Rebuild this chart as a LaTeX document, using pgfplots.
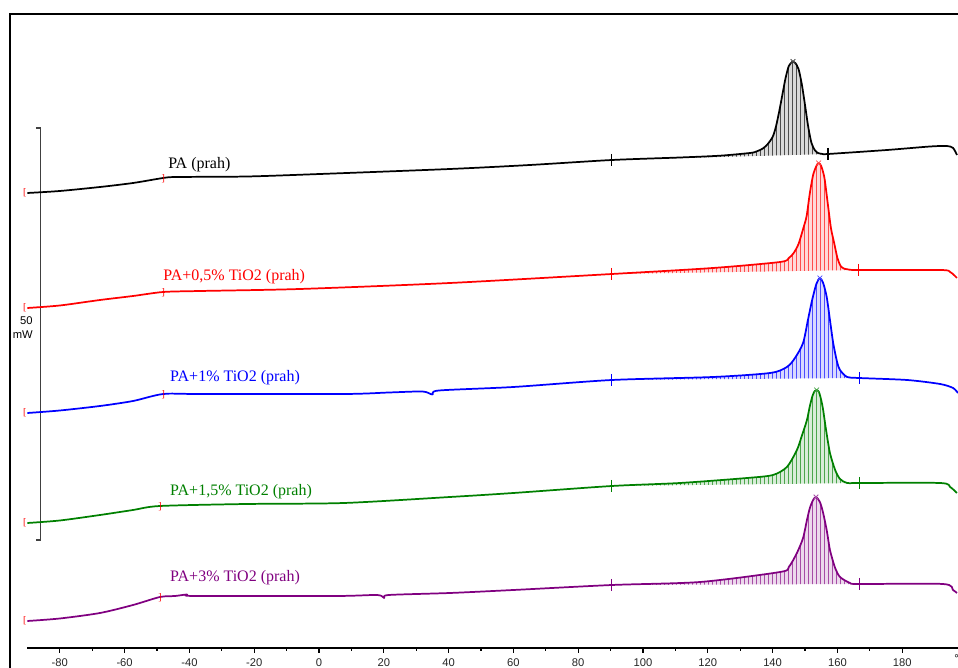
\documentclass[border=0pt]{standalone}
\usepackage{fontspec}
\setmainfont{Liberation Serif}
\setsansfont{Liberation Sans}
\usepackage{pgfplots}
\pgfplotsset{compat=1.18}
\usepgfplotslibrary{fillbetween}
\usetikzlibrary{patterns}
\definecolor{cgreen}{RGB}{0,128,0}
\definecolor{cpurple}{RGB}{128,0,128}
\begin{document}
\begin{tikzpicture}
\begin{axis}[
  x=2.43pt, y=0.75pt,
  xmin=-90, xmax=197.2, ymin=20, ymax=654,
  axis x line*=bottom, axis y line=none,
  xtick={-80,-60,...,180}, minor x tick num=1,
  xtick align=outside,
  major tick length=3.75pt, minor tick length=2.25pt,
  tick style={black, line width=0.8pt},
  x axis line style={line width=0.9pt},
  ticklabel style={font=\sffamily\fontsize{8.4}{9}\selectfont, text=black!85},
  /pgf/number format/assume math mode=true,
  xticklabel style={yshift=-0.5pt},
  clip=false,
  every axis plot/.append style={line width=1.3pt},
  curve/.style={smooth, tension=0.45, line join=round},
  lim/.style={only marks, mark=|, mark size=4.5pt, #1, mark options={line width=0.8pt}},
  pk/.style={only marks, mark=x, mark size=2.5pt, #1, mark options={line width=0.6pt}},
  brk/.style={only marks, mark=text, text mark as node=true, text mark={#1},
     text mark style={font=\fontsize{7.5}{7.5}\selectfont, text=red, inner sep=0pt}},
]
% frame
\draw[line width=0.8pt] (axis cs:-95.37,0) -- (axis cs:-95.37,654) -- (axis cs:197.2,654);
% scale bar
\draw[line width=0.8pt, black!75] (axis cs:-87.35,540) -- (axis cs:-86.1,540) -- (axis cs:-86.1,128) -- (axis cs:-87.35,128);
\node[anchor=east, font=\sffamily\fontsize{8.4}{9}\selectfont, inner sep=0pt] at (axis cs:-88.3,347) {50};
\node[anchor=east, font=\sffamily\fontsize{8.4}{9}\selectfont, inner sep=0pt] at (axis cs:-88.3,333) {mW};
\node[anchor=west, font=\sffamily\fontsize{8.4}{9}\selectfont, inner sep=0pt] at (axis cs:196.0,9) {°};

% ---------------- PA (black)
\addplot[black, curve, name path=cA] coordinates {
(-90,475) (-80,477) (-67.6,481) (-57.4,485) (-48.1,490) (-43.8,491) (-22.2,491.5)
(0.3,494) (40.4,499) (65.1,503) (90.4,508) (111.4,510.5) (123.8,512.3) (133,515)
(135,516.5) (137,519.5) (138.5,524) (140,531) (141,541) (142,556) (143,573) (144,590)
(145,602) (146,606) (146.3,606.5) (147,605) (148,599) (149,584) (150,563) (151,541)
(152,525) (153,518) (154,515) (155.5,514) (157.1,514) (175.3,518) (188.6,521.5)
(193.8,522) (195.7,520) (196.9,513)};
\addplot[draw=none, name path=bA] coordinates {(90.4,508) (157.1,514)};
\addplot[draw=none, fill=black!15] fill between[of=cA and bA, soft clip={domain=90.4:157.1}];
\addplot[draw=none, pattern=vertical lines, pattern color=black!70] fill between[of=cA and bA, soft clip={domain=90.4:157.1}];
\addplot[lim=black] coordinates {(90.4,508) (157.1,514)};
\addplot[pk=black!70] coordinates {(146.3,606.5)};
\node[anchor=west, inner sep=0pt, font=\fontsize{12}{14}\selectfont, text=black] at (axis cs:-46.6,503) {PA (prah)};

% ---------------- PA+0,5% (red)
\addplot[red, curve, name path=cB] coordinates {
(-90,360) (-80,362.5) (-67.6,368) (-57.4,372) (-48.1,376) (-36.7,377) (-5.9,379)
(40.4,385) (90.4,394) (121.6,400) (142.3,406) (145,410) (146.5,415) (148,424)
(149.5,440) (150.5,452) (151.5,475) (152.5,493) (153.5,502) (154.2,505) (155,502)
(156,490) (157,465) (158,440) (159,425) (160,410) (161,402) (162,399.5) (163.5,398.5)
(166.4,398) (191.7,398) (194.8,396) (196.9,390)};
\addplot[draw=none, name path=bB] coordinates {(90.4,394) (166.4,398)};
\addplot[draw=none, fill=red!15] fill between[of=cB and bB, soft clip={domain=90.4:166.4}];
\addplot[draw=none, pattern=vertical lines, pattern color=red!70] fill between[of=cB and bB, soft clip={domain=90.4:166.4}];
\addplot[lim=red] coordinates {(90.4,394) (166.4,398)};
\addplot[pk=red!70] coordinates {(154.2,505)};
\node[anchor=west, inner sep=0pt, font=\fontsize{12}{14}\selectfont, text=red] at (axis cs:-48.1,391) {PA+0,5\% TiO2 (prah)};

% ---------------- PA+1% (blue)
\addplot[blue, curve, name path=cC] coordinates {
(-90,255) (-80,257.5) (-67.6,262) (-57.4,267) (-48.1,274) (-36.7,274) (7.7,274)
(21.6,275.5) (32,276.5) (35,273.5) (37,277.5) (60,281) (90.4,288) (121.6,291)
(139.2,295) (144.4,301) (146.9,310) (149.4,325) (150.9,348) (152.2,368) (153.5,384)
(154.6,390) (155.6,385) (156.7,371) (157.7,348) (158.7,325) (159.9,306) (160.8,298)
(163,291) (166.7,290) (181.5,288) (191.7,284) (195.7,280) (197.2,275)};
\addplot[draw=none, name path=bC] coordinates {(90.4,288) (166.7,290)};
\addplot[draw=none, fill=blue!15] fill between[of=cC and bC, soft clip={domain=90.4:166.7}];
\addplot[draw=none, pattern=vertical lines, pattern color=blue!70] fill between[of=cC and bC, soft clip={domain=90.4:166.7}];
\addplot[lim=blue] coordinates {(90.4,288) (166.7,290)};
\addplot[pk=blue!70] coordinates {(154.6,390)};
\node[anchor=west, inner sep=0pt, font=\fontsize{12}{14}\selectfont, text=blue] at (axis cs:-46,290) {PA+1\% TiO2 (prah)};

% ---------------- PA+1,5% (green)
\addplot[cgreen, curve, name path=cD] coordinates {
(-90,145) (-80,147.5) (-67.6,153) (-57.4,158) (-49.1,162) (-22.5,164) (7.7,165)
(40.4,171) (60,175) (90.4,182) (111.4,185) (132.1,190) (140.1,193) (144.4,201)
(147.5,218) (149.1,233) (150.6,248) (151.5,262) (152.3,272) (153,277) (153.6,278)
(154.3,276) (155,268) (155.6,258) (156.5,238) (157.7,215) (159.3,198) (160.8,189)
(163,185) (166.7,185) (191.7,185) (194.8,181) (196.9,175)};
\addplot[draw=none, name path=bD] coordinates {(90.4,182) (166.7,185)};
\addplot[draw=none, fill=cgreen!15] fill between[of=cD and bD, soft clip={domain=90.4:166.7}];
\addplot[draw=none, pattern=vertical lines, pattern color=cgreen!70] fill between[of=cD and bD, soft clip={domain=90.4:166.7}];
\addplot[lim=cgreen] coordinates {(90.4,182) (166.7,185)};
\addplot[pk=cgreen!70] coordinates {(153.6,278)};
\node[anchor=west, inner sep=0pt, font=\fontsize{12}{14}\selectfont, text=cgreen] at (axis cs:-46,176) {PA+1,5\% TiO2 (prah)};

% ---------------- PA+3% (purple)
\addplot[cpurple, curve, name path=cE] coordinates {
(-90,47) (-80,49.5) (-67.6,55) (-57.4,63) (-49.1,71) (-44.4,72) (-40.7,73.5)
(-38.3,72) (5.2,72) (18,73) (20.1,70) (21.5,73) (40.4,75) (60,78) (90.4,83)
(117.6,86) (142.3,96) (145,101) (147.5,115) (149.4,130) (150.6,148) (151.5,160)
(152.5,168) (153.4,171) (154.6,166) (155.6,155) (156.8,136) (157.7,118) (159.3,100)
(160.8,91) (163.9,85) (166.7,84) (192.6,84) (195.7,78) (196.9,75)};
\addplot[draw=none, name path=bE] coordinates {(90.4,83) (166.7,84)};
\addplot[draw=none, fill=cpurple!15] fill between[of=cE and bE, soft clip={domain=90.4:166.7}];
\addplot[draw=none, pattern=vertical lines, pattern color=cpurple!70] fill between[of=cE and bE, soft clip={domain=90.4:166.7}];
\addplot[lim=cpurple] coordinates {(90.4,83) (166.7,84)};
\addplot[pk=cpurple!70] coordinates {(153.4,171)};
\node[anchor=west, inner sep=0pt, font=\fontsize{12}{14}\selectfont, text=cpurple] at (axis cs:-46,90) {PA+3\% TiO2 (prah)};

% red brackets (limits)
\addplot[brk={[}] coordinates {(-90.8,475) (-90.8,360) (-90.8,255) (-90.8,145) (-90.8,47)};
\addplot[brk={]}] coordinates {(-48.1,489) (-48.1,375) (-48.1,273) (-49.1,161) (-49.1,70)};

\coordinate (BL) at (axis cs:-98.46,0);
\coordinate (TR) at (axis cs:197.22,668);
\end{axis}
\pgfresetboundingbox
\path[use as bounding box] (BL) rectangle (TR);
\end{tikzpicture}
\end{document}
